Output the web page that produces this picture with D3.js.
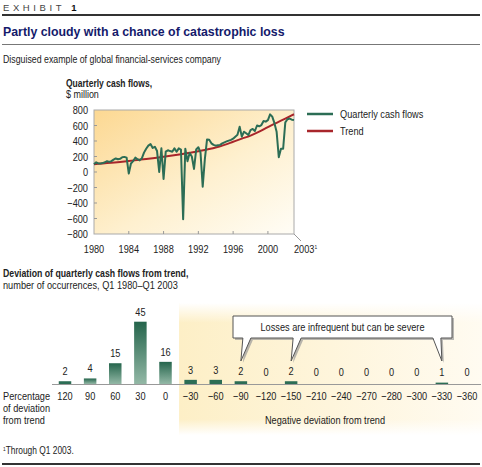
<!DOCTYPE html>
<html>
<head>
<meta charset="utf-8">
<script src="https://cdn.jsdelivr.net/npm/d3@7"></script>
<style>
  body { margin: 0; background: #fff; }
  svg text { font-family: "Liberation Sans", Arial, sans-serif; fill: #222; }
</style>
</head>
<body>
<div id="chart"></div>
<script>
// quarterly cash flows, $ million, Q1 1980 .. Q1 2003
const cashFlows = [
  100, 125, 110, 110,   // 1980
  115, 125, 140, 130,   // 1981
  140, 160, 175, 165,   // 1982
  170, 190, 195, 185,   // 1983
  -20, 110, 140, 185,   // 1984
  165, 150, 176, 250,   // 1985
  300, 340, 360, 310,   // 1986
  325, 270, 0, 305,     // 1987
  -90, 262, 280, 270,   // 1988
  262, 305, 262, 305,   // 1989
  290, -610, 300, 140,  // 1990
  245, 200, 40, 290,    // 1991
  320, 250, -190, 170,  // 1992
  420, 415, 370, 350,   // 1993
  340, 345, 350, 370,   // 1994
  383, 395, 405, 415,   // 1995
  430, 456, 480, 585,   // 1996
  456, 520, 500, 477,   // 1997
  540, 555, 529, 600,   // 1998
  590, 606, 658, 650,   // 1999
  670, 744, 714, 630,   // 2000
  520, 190, 300, 300,   // 2001
  640, 680, 690, 675,   // 2002
  670                   // 2003
];
const trendYears = d3.range(1980, 2004);
const trendValues = [100, 110, 120, 130, 142, 155, 168, 182, 197, 213, 230, 248,
  267, 290, 315, 350, 390, 430, 470, 520, 580, 635, 690, 745];
const yTicks = [800, 600, 400, 200, 0, -200, -400, -600, -800];
const xTicks = [1980, 1984, 1988, 1992, 1996, 2000];

// deviation histogram
const deviationBins = ["120", "90", "60", "30", "0", "\u221230", "\u221260", "\u221290", "\u2212120",
  "\u2212150", "\u2212210", "\u2212240", "\u2212270", "\u2212280", "\u2212300", "\u2212330", "\u2212360"];
const occurrences = [2, 4, 15, 45, 16, 3, 3, 2, 0, 2, 0, 0, 0, 0, 0, 1, 0];
const calloutBins = ["\u221290", "\u2212150", "\u2212330"];

const W = 482, H = 467;
const SX = 0.8; // squeeze to imitate a condensed face
const green = "#2c6d55", red = "#a8262b", navy = "#141a6b";

const svg = d3.select("#chart").append("svg").attr("width", W).attr("height", H);
const defs = svg.append("defs");

// helper: condensed text placed with a transform
function txt(parent, x, y, str, size, sx) {
  return parent.append("text")
    .attr("transform", `translate(${x},${y}) scale(${sx || SX},1)`)
    .text(str).style("font-size", size + "px");
}

// ---------- header ----------
const ex = svg.append("text").attr("x", 3).attr("y", 11)
  .style("font-size", "9.5px").style("letter-spacing", "3.6px");
ex.append("tspan").text("EXHIBIT ").style("fill", "#444");
ex.append("tspan").text("1").style("font-weight", "bold").style("fill", "#111");

svg.append("line").attr("x1", 2).attr("x2", 480).attr("y1", 15).attr("y2", 15)
  .attr("stroke", "#333").attr("stroke-width", 2);
txt(svg, 3, 36, "Partly cloudy with a chance of catastrophic loss", 13, 0.95)
  .style("font-weight", "bold").style("fill", navy);
svg.append("line").attr("x1", 2).attr("x2", 480).attr("y1", 44.5).attr("y2", 44.5)
  .attr("stroke", "#777").attr("stroke-width", 1);
txt(svg, 3, 63, "Disguised example of global financial-services company", 11);

// ---------- line chart ----------
const plot = { left: 94, right: 294, top: 110, bottom: 234 };
const x = d3.scaleLinear().domain([1980, 2003]).range([plot.left, plot.right]);
const y = d3.scaleLinear().domain([-800, 800]).range([plot.bottom, plot.top]);

txt(svg, 66, 87, "Quarterly cash flows,", 11.5, 0.74).style("font-weight", "bold");
txt(svg, 66, 98, "$ million", 11.5, 0.78);

const bg = defs.append("linearGradient").attr("id", "plotBg")
  .attr("x1", 0).attr("y1", 0).attr("x2", 1).attr("y2", 1);
bg.append("stop").attr("offset", 0).attr("stop-color", "#fcd892");
bg.append("stop").attr("offset", 0.55).attr("stop-color", "#fef0cf");
bg.append("stop").attr("offset", 1).attr("stop-color", "#fffdf6");

svg.append("rect").attr("x", plot.left).attr("y", plot.top)
  .attr("width", plot.right - plot.left).attr("height", plot.bottom - plot.top)
  .attr("fill", "url(#plotBg)").attr("stroke", "#aaa").attr("stroke-width", 1);

// ticks inside
svg.append("g").selectAll("line").data(yTicks.slice(1, -1)).join("line")
  .attr("x1", plot.left).attr("x2", plot.left + 3)
  .attr("y1", d => y(d)).attr("y2", d => y(d)).attr("stroke", "#999");
svg.append("g").selectAll("line").data(xTicks.slice(1)).join("line")
  .attr("x1", d => x(d)).attr("x2", d => x(d))
  .attr("y1", plot.bottom).attr("y2", plot.bottom - 3).attr("stroke", "#999");

svg.append("g").selectAll("text").data(yTicks).join("text")
  .attr("transform", d => `translate(88,${y(d) + 4}) scale(${SX},1)`)
  .attr("text-anchor", "end").style("font-size", "11.5px")
  .text(d => d < 0 ? "\u2212" + Math.abs(d) : d);
svg.append("g").selectAll("text").data(xTicks).join("text")
  .attr("transform", d => `translate(${x(d)},253) scale(${SX},1)`)
  .attr("text-anchor", "middle").style("font-size", "11.5px")
  .text(d => d);

// 2003 label with leader
svg.append("line").attr("x1", x(2003)).attr("y1", plot.bottom)
  .attr("x2", x(2003) + 7).attr("y2", plot.bottom + 7).attr("stroke", "#999");
const l03 = svg.append("text").attr("transform", `translate(${x(2003)},253) scale(${SX},1)`)
  .style("font-size", "11.5px");
l03.append("tspan").text("2003");
l03.append("tspan").text("1").attr("dy", -4).style("font-size", "6px");

const line = d3.line().x(d => x(d[0])).y(d => y(d[1]));
const cfPoints = cashFlows.map((v, i) => [1980 + i / 4, v]);
const trendPoints = trendYears.map((yr, i) => [yr, trendValues[i]]);

svg.append("path").datum(trendPoints)
  .attr("d", line.curve(d3.curveMonotoneX))
  .attr("fill", "none").attr("stroke", red).attr("stroke-width", 2);
svg.append("path").datum(cfPoints)
  .attr("d", line.curve(d3.curveLinear))
  .attr("fill", "none").attr("stroke", green).attr("stroke-width", 2)
  .attr("stroke-linejoin", "round");

// legend
const legend = [["Quarterly cash flows", green], ["Trend", red]];
const lg = svg.append("g").selectAll("g").data(legend).join("g")
  .attr("transform", (d, i) => `translate(307,${114 + i * 17})`);
lg.append("line").attr("x1", 0).attr("x2", 26).attr("stroke", d => d[1]).attr("stroke-width", 2.5);
lg.append("text").attr("transform", `translate(33,4) scale(${SX},1)`)
  .text(d => d[0]).style("font-size", "11.5px");

// ---------- histogram ----------
txt(svg, 3, 277, "Deviation of quarterly cash flows from trend,", 11.5, 0.76).style("font-weight", "bold");
txt(svg, 3, 289, "number of occurrences, Q1 1980\u2013Q1 2003", 11.5);

const bx = d3.scalePoint().domain(deviationBins).range([65, 467]);
const by = d3.scaleLinear().domain([0, 45]).range([384, 321.7]);
const barW = 12.5;

// shaded negative region
const negGrad = defs.append("linearGradient").attr("id", "negBg")
  .attr("x1", 0).attr("y1", 0).attr("x2", 1).attr("y2", 0);
negGrad.append("stop").attr("offset", 0).attr("stop-color", "#fdefc6");
negGrad.append("stop").attr("offset", 1).attr("stop-color", "#fffbf1");
const fadeGrad = defs.append("linearGradient").attr("id", "negFade")
  .attr("x1", 0).attr("y1", 0).attr("x2", 0).attr("y2", 1);
fadeGrad.append("stop").attr("offset", 0).attr("stop-color", "#fff").attr("stop-opacity", 1);
fadeGrad.append("stop").attr("offset", 0.15).attr("stop-color", "#fff").attr("stop-opacity", 0);
fadeGrad.append("stop").attr("offset", 0.88).attr("stop-color", "#fff").attr("stop-opacity", 0);
fadeGrad.append("stop").attr("offset", 1).attr("stop-color", "#fff").attr("stop-opacity", 1);

const negX0 = (bx("0") + bx("\u221230")) / 2 + 1;
svg.append("rect").attr("x", negX0).attr("y", 303).attr("width", W - negX0).attr("height", 132)
  .attr("fill", "url(#negBg)");
svg.append("rect").attr("x", negX0).attr("y", 303).attr("width", W - negX0).attr("height", 132)
  .attr("fill", "url(#negFade)");

const barGrad = defs.append("linearGradient").attr("id", "barBg")
  .attr("x1", 0).attr("y1", 0).attr("x2", 0).attr("y2", 1);
barGrad.append("stop").attr("offset", 0).attr("stop-color", "#25654c");
barGrad.append("stop").attr("offset", 1).attr("stop-color", "#93b8a6");

const bins = deviationBins.map((b, i) => [b, occurrences[i]]);
svg.append("g").selectAll("rect").data(bins).join("rect")
  .attr("x", d => bx(d[0]) - barW / 2).attr("y", d => by(d[1]))
  .attr("width", barW).attr("height", d => by(0) - by(d[1]))
  .attr("fill", d => d[1] < 4 ? green : "url(#barBg)");

svg.append("line").attr("x1", 52).attr("x2", 481).attr("y1", 384.5).attr("y2", 384.5)
  .attr("stroke", "#999").attr("stroke-width", 1);

svg.append("g").selectAll("text").data(bins).join("text")
  .attr("transform", d => `translate(${bx(d[0])},${Math.min(by(d[1]) - 6, 375.5)}) scale(${SX},1)`)
  .attr("text-anchor", "middle").text(d => d[1]).style("font-size", "11.5px");

svg.append("g").selectAll("text").data(deviationBins).join("text")
  .attr("transform", d => `translate(${bx(d)},400) scale(${SX},1)`)
  .attr("text-anchor", "middle").text(d => d).style("font-size", "11.5px");

["Percentage", "of deviation", "from trend"].forEach((t, i) => {
  txt(svg, 3, 400 + i * 12, t, 11.5);
});
txt(svg, 325, 424, "Negative deviation from trend", 11.5).attr("text-anchor", "middle");

// callout box with three tails
const box = { x0: 233, x1: 452, y0: 316, y1: 338 };
const tipY = 361;
const tails = calloutBins.map((b, i) => {
  const tx = bx(b);
  return i < 2 ? { a: tx + 2, b: tx + 10, tip: tx } : { a: tx - 9, b: tx - 1, tip: tx };
});
let p = `M${box.x0},${box.y0} H${box.x1} V${box.y1}`;
tails.slice().reverse().forEach(t => {
  p += ` H${t.b} L${t.tip},${tipY} L${t.a},${box.y1}`;
});
p += ` H${box.x0} Z`;

svg.append("path").attr("d", p).attr("transform", "translate(2,2)")
  .attr("fill", "#9a9a9a").attr("opacity", 0.7);
svg.append("path").attr("d", p).attr("fill", "#fff").attr("stroke", "#555").attr("stroke-width", 1)
  .attr("stroke-linejoin", "miter");
txt(svg, (box.x0 + box.x1) / 2, 331, "Losses are infrequent but can be severe", 11.5)
  .attr("text-anchor", "middle");

// ---------- footnote ----------
const fn = svg.append("text").attr("transform", `translate(3,454) scale(${SX},1)`).style("font-size", "10.5px");
fn.append("tspan").text("1").attr("dy", -3).style("font-size", "6px");
fn.append("tspan").text("Through Q1 2003.").attr("dy", 3);
svg.append("line").attr("x1", 2).attr("x2", 480).attr("y1", 464).attr("y2", 464)
  .attr("stroke", "#333").attr("stroke-width", 2);
</script>
</body>
</html>
